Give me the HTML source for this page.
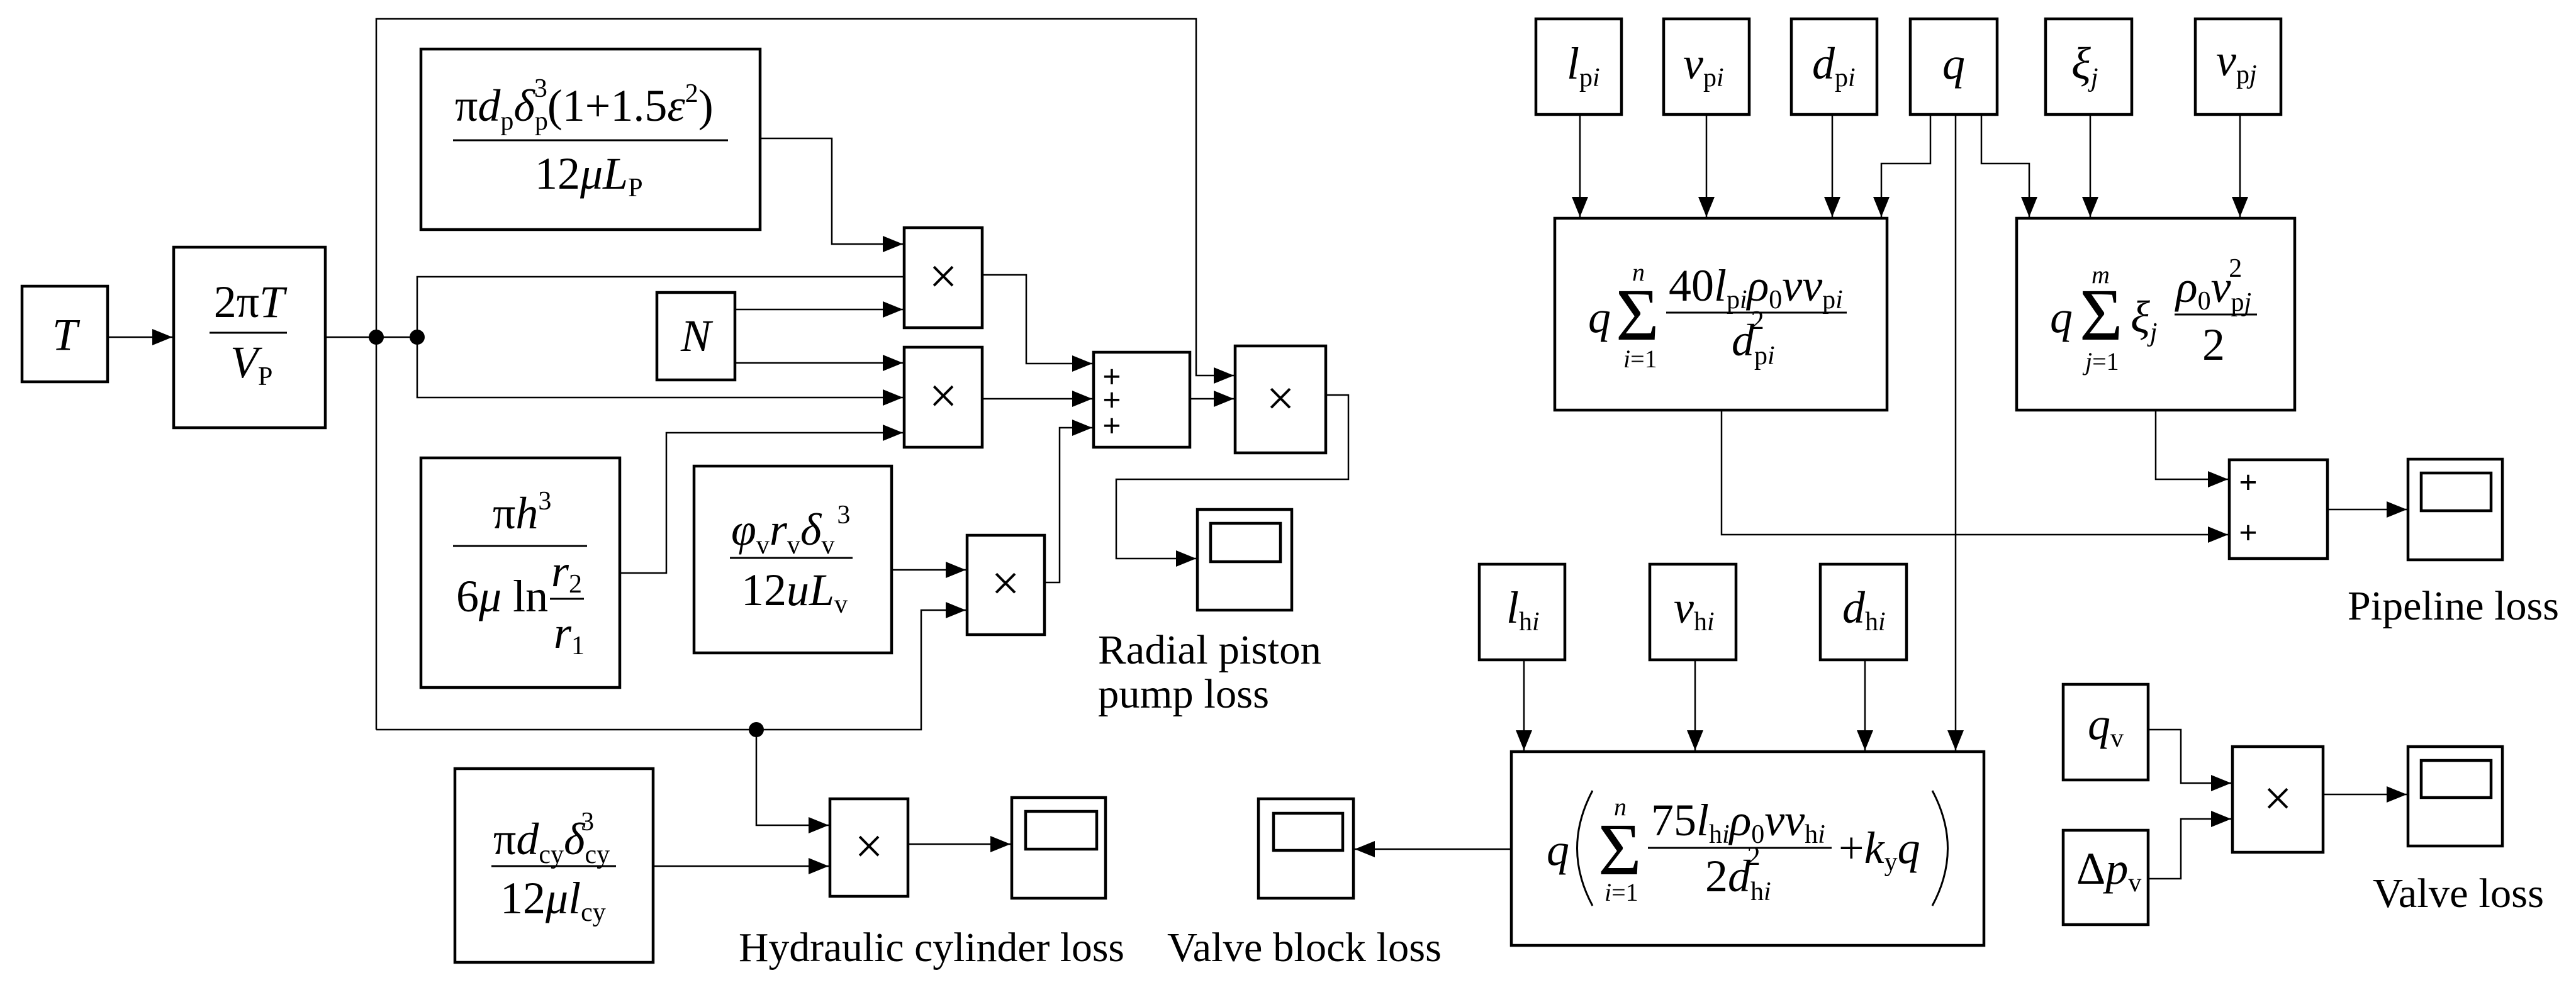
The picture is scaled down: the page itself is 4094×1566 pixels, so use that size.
<!DOCTYPE html>
<html><head><meta charset="utf-8"><style>
html,body{margin:0;padding:0;background:#fff}
svg{display:block}
text{font-family:"Liberation Serif",serif;fill:#000}
.i{font-style:italic}
</style></head><body>
<svg width="4094" height="1566" viewBox="0 0 4094 1566" xmlns="http://www.w3.org/2000/svg">
<defs>
<marker id="a" markerUnits="userSpaceOnUse" markerWidth="34" markerHeight="28" refX="32" refY="13" orient="auto">
<path d="M0,0 L32,13 L0,26 z" fill="#000"/></marker>
</defs>
<g fill="none" stroke="#000" stroke-width="4.5">
<rect x="35" y="455" width="136" height="152"/>
<rect x="276" y="393" width="241" height="287"/>
<rect x="669" y="78" width="539" height="287"/>
<rect x="1044" y="465" width="124" height="139"/>
<rect x="1437" y="362" width="124" height="159"/>
<rect x="1437" y="552" width="124" height="159"/>
<rect x="669" y="728" width="316" height="365"/>
<rect x="1103" y="741" width="314" height="297"/>
<rect x="1537" y="851" width="123" height="158"/>
<rect x="1738" y="560" width="153" height="151"/>
<rect x="1963" y="550" width="144" height="170"/>
<rect x="1903" y="810" width="150" height="160"/>
<rect x="1924" y="832" width="111" height="61"/>
<rect x="723" y="1222" width="315" height="308"/>
<rect x="1319" y="1270" width="124" height="155"/>
<rect x="1608" y="1268" width="149" height="160"/>
<rect x="1630" y="1290" width="113" height="60"/>
<rect x="2000" y="1270" width="151" height="158"/>
<rect x="2024" y="1293" width="110" height="59"/>
<rect x="2441" y="30" width="136" height="152"/>
<rect x="2644" y="30" width="136" height="152"/>
<rect x="2847" y="30" width="136" height="152"/>
<rect x="3036" y="30" width="138" height="152"/>
<rect x="3251" y="30" width="137" height="152"/>
<rect x="3489" y="30" width="136" height="152"/>
<rect x="2471" y="347" width="528" height="305"/>
<rect x="3205" y="347" width="442" height="305"/>
<rect x="3543" y="731" width="156" height="157"/>
<rect x="3827" y="730" width="150" height="160"/>
<rect x="3848" y="752" width="111" height="60"/>
<rect x="2351" y="897" width="136" height="152"/>
<rect x="2622" y="897" width="137" height="152"/>
<rect x="2893" y="897" width="137" height="152"/>
<rect x="2402" y="1195" width="751" height="308"/>
<rect x="3279" y="1088" width="135" height="152"/>
<rect x="3279" y="1320" width="135" height="150"/>
<rect x="3548" y="1187" width="144" height="168"/>
<rect x="3827" y="1187" width="150" height="158"/>
<rect x="3848" y="1209" width="111" height="59"/>
</g>
<g fill="none" stroke="#000" stroke-width="2.5">
<path d="M171,536 H274" marker-end="url(#a)"/>
<path d="M517,536 H663"/>
<path d="M598,1160 V30 H1901 V597 H1961" marker-end="url(#a)"/>
<path d="M598,1160 H1464 V970 H1535" marker-end="url(#a)"/>
<path d="M1202,1160 V1312 H1317" marker-end="url(#a)"/>
<path d="M1437,440 H663 V632 H1435" marker-end="url(#a)"/>
<path d="M1208,220 H1322 V388 H1435" marker-end="url(#a)"/>
<path d="M1168,492 H1435" marker-end="url(#a)"/>
<path d="M1168,577 H1435" marker-end="url(#a)"/>
<path d="M985,911 H1059 V688 H1435" marker-end="url(#a)"/>
<path d="M1417,906 H1535" marker-end="url(#a)"/>
<path d="M1561,437 H1631 V578 H1736" marker-end="url(#a)"/>
<path d="M1561,634 H1736" marker-end="url(#a)"/>
<path d="M1660,926 H1684 V680 H1736" marker-end="url(#a)"/>
<path d="M1891,634 H1961" marker-end="url(#a)"/>
<path d="M2107,628 H2143 V762 H1774 V888 H1901" marker-end="url(#a)"/>
<path d="M1038,1377 H1317" marker-end="url(#a)"/>
<path d="M1443,1342 H1606" marker-end="url(#a)"/>
<path d="M2402,1350 H2153" marker-end="url(#a)"/>
<path d="M2511,182 V345" marker-end="url(#a)"/>
<path d="M2712,182 V345" marker-end="url(#a)"/>
<path d="M2912,182 V345" marker-end="url(#a)"/>
<path d="M3068,182 V260 H2990 V345" marker-end="url(#a)"/>
<path d="M3108,182 V1193" marker-end="url(#a)"/>
<path d="M3149,182 V260 H3225 V345" marker-end="url(#a)"/>
<path d="M3322,182 V345" marker-end="url(#a)"/>
<path d="M3560,182 V345" marker-end="url(#a)"/>
<path d="M2736,652 V850 H3541" marker-end="url(#a)"/>
<path d="M3426,652 V762 H3541" marker-end="url(#a)"/>
<path d="M3699,810 H3825" marker-end="url(#a)"/>
<path d="M2422,1049 V1193" marker-end="url(#a)"/>
<path d="M2694,1049 V1193" marker-end="url(#a)"/>
<path d="M2964,1049 V1193" marker-end="url(#a)"/>
<path d="M3414,1160 H3466 V1245 H3546" marker-end="url(#a)"/>
<path d="M3414,1397 H3466 V1302 H3546" marker-end="url(#a)"/>
<path d="M3692,1263 H3825" marker-end="url(#a)"/>
<path d="M333,529 H456 M720,223 H1157 M720,868 H933 M874,952 H928 M1160,887 H1355 M781,1377 H979 M2648,497 H2935 M3456,500 H3587 M2619,1348 H2911" stroke-width="3"/>
<path d="M2531,1257 Q2482,1349 2531,1440 M3071,1257 Q3120,1349 3071,1440" stroke-width="3"/>
</g>
<g fill="#000">
<circle cx="598" cy="536" r="12"/><circle cx="663" cy="536" r="12"/><circle cx="1202" cy="1160" r="12"/>
</g>
<g font-size="72">
<text x="103" y="556" class="i" text-anchor="middle">T</text>
<text x="396" y="504" text-anchor="middle">2π<tspan class="i">T</tspan></text>
<text x="366" y="600" class="i">V<tspan font-size="42" font-style="normal" dy="12">P</tspan></text>
<text x="1106" y="558" class="i" text-anchor="middle">N</text>
<text x="723" y="192">π<tspan class="i">d</tspan><tspan font-size="42" dy="14">p</tspan><tspan class="i" dy="-14">δ</tspan><tspan font-size="42" dy="14">p</tspan><tspan font-size="42" dx="-22" dy="-52">3</tspan><tspan dy="38">(1+1.5</tspan><tspan class="i">ε</tspan><tspan font-size="42" dy="-30">2</tspan><tspan dy="30">)</tspan></text>
<text x="850" y="300">12<tspan class="i">μL</tspan><tspan font-size="42" dy="12">P</tspan></text>
<text x="783" y="840">π<tspan class="i">h</tspan><tspan font-size="42" dy="-30">3</tspan></text>
<text x="725" y="972">6<tspan class="i">μ</tspan> ln</text>
<text x="876" y="932" class="i">r<tspan font-size="42" font-style="normal" dy="10">2</tspan></text>
<text x="880" y="1030" class="i">r<tspan font-size="42" font-style="normal" dy="10">1</tspan></text>
<text x="1162" y="866" class="i">φ<tspan font-size="42" font-style="normal" dy="14">v</tspan><tspan dy="-14">r</tspan><tspan font-size="42" font-style="normal" dy="14">v</tspan><tspan dy="-14">δ</tspan><tspan font-size="42" font-style="normal" dy="14">v</tspan><tspan font-size="42" font-style="normal" dx="4" dy="-48">3</tspan></text>
<text x="1178" y="962">12<tspan class="i">uL</tspan><tspan font-size="42" dy="12">v</tspan></text>
<text x="784" y="1358">π<tspan class="i">d</tspan><tspan font-size="42" dy="14">cy</tspan><tspan class="i" dy="-14">δ</tspan><tspan font-size="42" dy="14">cy</tspan><tspan font-size="42" dx="-46" dy="-52">3</tspan></text>
<text x="795" y="1452">12<tspan class="i">μl</tspan><tspan font-size="42" dy="12">cy</tspan></text>
<g font-size="80" text-anchor="middle">
<text x="1499" y="466">×</text><text x="1499" y="656">×</text><text x="1598" y="954">×</text>
<text x="2035" y="660">×</text><text x="1381" y="1372">×</text><text x="3620" y="1296">×</text>
</g>
<g font-size="52" font-weight="bold" text-anchor="middle">
<text x="1767" y="616">+</text><text x="1767" y="653">+</text><text x="1767" y="694">+</text>
<text x="3573" y="784">+</text><text x="3573" y="864">+</text>
</g>
<text x="2490" y="125" class="i">l<tspan font-size="42" font-style="normal" dy="12">p<tspan class="i">i</tspan></tspan></text>
<text x="2675" y="125" class="i">v<tspan font-size="42" font-style="normal" dy="12">p<tspan class="i">i</tspan></tspan></text>
<text x="2880" y="125" class="i">d<tspan font-size="42" font-style="normal" dy="12">p<tspan class="i">i</tspan></tspan></text>
<text x="3105" y="125" class="i" text-anchor="middle">q</text>
<text x="3292" y="125" class="i">ξ<tspan font-size="42" dy="12">j</tspan></text>
<text x="3522" y="120" class="i">v<tspan font-size="42" font-style="normal" dy="12">p<tspan class="i">j</tspan></tspan></text>
<!-- box A -->
<text x="2524" y="528" class="i">q</text>
<text x="2568" y="540" font-size="118">Σ</text>
<text x="2594" y="446" font-size="40" class="i">n</text>
<text x="2580" y="584" font-size="40"><tspan class="i">i</tspan>=1</text>
<text x="2652" y="478">40<tspan class="i">l</tspan><tspan font-size="42" dy="12">p<tspan class="i">i</tspan></tspan><tspan class="i" dy="-12">ρ</tspan><tspan font-size="42" dy="12">0</tspan><tspan class="i" dy="-12">νv</tspan><tspan font-size="42" dy="12">p<tspan class="i">i</tspan></tspan></text>
<text x="2752" y="565" class="i">d<tspan font-size="42" font-style="normal" dy="14">p<tspan class="i">i</tspan></tspan><tspan font-size="42" font-style="normal" dx="-38" dy="-56">2</tspan></text>
<!-- box B -->
<text x="3258" y="528" class="i">q</text>
<text x="3305" y="540" font-size="118">Σ</text>
<text x="3324" y="450" font-size="40" class="i">m</text>
<text x="3314" y="588" font-size="40"><tspan class="i">j</tspan>=1</text>
<text x="3386" y="528" class="i">ξ<tspan font-size="42" dy="14">j</tspan></text>
<text x="3458" y="480" class="i">ρ<tspan font-size="42" font-style="normal" dy="12">0</tspan><tspan dy="-12">v</tspan><tspan font-size="42" font-style="normal" dy="14">p<tspan class="i">j</tspan></tspan><tspan font-size="42" font-style="normal" dx="-36" dy="-54">2</tspan></text>
<text x="3518" y="572" text-anchor="middle">2</text>
<text x="2394" y="990" class="i">l<tspan font-size="42" font-style="normal" dy="12">h<tspan class="i">i</tspan></tspan></text>
<text x="2660" y="990" class="i">v<tspan font-size="42" font-style="normal" dy="12">h<tspan class="i">i</tspan></tspan></text>
<text x="2928" y="990" class="i">d<tspan font-size="42" font-style="normal" dy="12">h<tspan class="i">i</tspan></tspan></text>
<text x="3318" y="1175" class="i">q<tspan font-size="42" font-style="normal" dy="12">v</tspan></text>
<text x="3300" y="1405">Δ<tspan class="i">p</tspan><tspan font-size="42" dy="12">v</tspan></text>
<!-- box C -->
<text x="2458" y="1375" class="i">q</text>
<text x="2540" y="1390" font-size="118">Σ</text>
<text x="2565" y="1296" font-size="40" class="i">n</text>
<text x="2550" y="1432" font-size="40"><tspan class="i">i</tspan>=1</text>
<text x="2624" y="1328">75<tspan class="i">l</tspan><tspan font-size="42" dy="12">h<tspan class="i">i</tspan></tspan><tspan class="i" dy="-12">ρ</tspan><tspan font-size="42" dy="12">0</tspan><tspan class="i" dy="-12">νv</tspan><tspan font-size="42" dy="12">h<tspan class="i">i</tspan></tspan></text>
<text x="2710" y="1417">2<tspan class="i">d</tspan><tspan font-size="42" dy="14">h<tspan class="i">i</tspan></tspan><tspan font-size="42" dx="-38" dy="-56">2</tspan></text>
<text x="2922" y="1372">+<tspan class="i">k</tspan><tspan font-size="42" dy="12">y</tspan><tspan class="i" dy="-12">q</tspan></text>
</g>
<g font-size="66">
<text x="1745" y="1055" textLength="355" lengthAdjust="spacingAndGlyphs">Radial piston</text>
<text x="1745" y="1125" textLength="272" lengthAdjust="spacingAndGlyphs">pump loss</text>
<text x="1174" y="1528" textLength="613" lengthAdjust="spacingAndGlyphs">Hydraulic cylinder loss</text>
<text x="1855" y="1528" textLength="436" lengthAdjust="spacingAndGlyphs">Valve block loss</text>
<text x="3731" y="985" textLength="336" lengthAdjust="spacingAndGlyphs">Pipeline loss</text>
<text x="3771" y="1442" textLength="272" lengthAdjust="spacingAndGlyphs">Valve loss</text>
</g>
</svg>
</body></html>
